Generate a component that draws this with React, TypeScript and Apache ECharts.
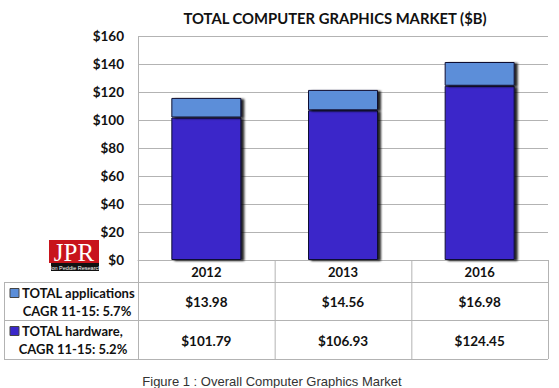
import React, { useEffect, useRef } from "react";
import * as echarts from "echarts";

const categories = ["2012", "2013", "2016"];
const applications = [13.98, 14.56, 16.98];
const hardware = [101.79, 106.93, 124.45];
const yTicks = [0, 20, 40, 60, 80, 100, 120, 140, 160];
const title = "TOTAL COMPUTER GRAPHICS MARKET ($B)";
const appsLegend = ["TOTAL applications", "CAGR 11-15: 5.7%"];
const hwLegend = ["TOTAL hardware,", "CAGR 11-15: 5.2%"];
const caption = "Figure 1 : Overall Computer Graphics Market";

const HW_COLOR = "#3a27c9";
const APP_COLOR = "#5b8ed9";
const FONT = "Lato";
const LINE = "#b3b3b3";

export default function App() {
  const ref = useRef<HTMLDivElement>(null);
  useEffect(() => {
    if (!ref.current) return;
    const chart = echarts.init(ref.current, undefined, { renderer: "svg" });

    const left = 138;
    const right = 548;
    const colW = (right - left) / categories.length;
    const tableX0 = 4;
    const rowY = [260, 282, 320, 359];

    const graphics: any[] = [];
    const hLine = (x1: number, x2: number, y: number) =>
      graphics.push({ type: "line", shape: { x1, y1: y + 0.5, x2, y2: y + 0.5 }, style: { stroke: LINE, lineWidth: 1 }, silent: true });
    const vLine = (x: number, y1: number, y2: number) =>
      graphics.push({ type: "line", shape: { x1: x + 0.5, y1, x2: x + 0.5, y2 }, style: { stroke: LINE, lineWidth: 1 }, silent: true });

    hLine(tableX0, right, rowY[1]);
    hLine(tableX0, right, rowY[2]);
    hLine(tableX0, right, rowY[3]);
    vLine(tableX0, rowY[1], rowY[3]);
    vLine(left, 36, rowY[3]);
    for (let i = 1; i <= categories.length; i++) vLine(left + colW * i, rowY[0], rowY[3]);

    // values
    const rows = [applications, hardware];
    rows.forEach((arr, r) => {
      arr.forEach((v, i) => {
        graphics.push({
          type: "text",
          x: left + colW * (i + 0.5),
          y: (rowY[r + 1] + rowY[r + 2]) / 2 + 1,
          style: { text: "$" + v.toFixed(2), fontFamily: FONT, fontWeight: "bold", fontSize: 13.5, fill: "#111", align: "center", verticalAlign: "middle" },
        });
      });
    });

    // legend cells
    const legendCell = (lines: string[], color: string, yTop: number, cx2: number) => {
      graphics.push({ type: "rect", shape: { x: 10, y: yTop + 6.5, width: 9, height: 9 }, style: { fill: color, stroke: "#444", lineWidth: 1 } });
      graphics.push({ type: "text", x: 22, y: yTop + 11, style: { text: lines[0], fontFamily: FONT, fontWeight: "bold", fontSize: 13, fill: "#111", align: "left", verticalAlign: "middle" } });
      graphics.push({ type: "text", x: cx2, y: yTop + 29, style: { text: lines[1], fontFamily: FONT, fontWeight: "bold", fontSize: 13, fill: "#111", align: "center", verticalAlign: "middle" } });
    };
    legendCell(appsLegend, APP_COLOR, rowY[1], 77);
    legendCell(hwLegend, HW_COLOR, rowY[2], 73);

    // logo
    graphics.push({ type: "rect", shape: { x: 49, y: 240, width: 50, height: 23 }, style: { fill: "#c8141c" } });
    graphics.push({ type: "text", x: 74, y: 252.5, style: { text: "JPR", fontFamily: "Liberation Serif", fontSize: 25, fill: "#fff", align: "center", verticalAlign: "middle" } });
    graphics.push({ type: "rect", shape: { x: 51, y: 263, width: 48, height: 8 }, style: { fill: "#111" } });
    graphics.push({ type: "text", x: 75, y: 267.5, style: { text: "Jon Peddie Research", fontFamily: "Liberation Sans Narrow, Liberation Sans", fontSize: 5.5, fill: "#fff", align: "center", verticalAlign: "middle" } });

    // caption
    graphics.push({ type: "text", x: 272, y: 381, style: { text: caption, fontFamily: "Liberation Sans", fontSize: 13, fill: "#333", align: "center", verticalAlign: "middle" } });

    const shadow = { shadowColor: "rgba(0,0,0,0.85)", shadowBlur: 2, shadowOffsetX: 3, shadowOffsetY: 1 };

    chart.setOption({
      animation: false,
      title: {
        text: title,
        left: 330,
        textAlign: "center",
        top: 5,
        textStyle: { fontFamily: FONT, fontWeight: "bold", fontSize: 14.8, color: "#111" },
      },
      grid: { left: left, top: 36, width: right - left, height: 224, containLabel: false },
      xAxis: {
        type: "category",
        data: categories,
        axisLine: { show: true, lineStyle: { color: LINE, width: 1 } },
        axisTick: { show: false },
        axisLabel: { fontFamily: FONT, fontWeight: "bold", fontSize: 13, color: "#111", margin: 5 },
      },
      yAxis: {
        type: "value",
        min: yTicks[0],
        max: yTicks[yTicks.length - 1],
        interval: yTicks[1] - yTicks[0],
        axisLine: { show: false },
        axisTick: { show: false },
        splitLine: { lineStyle: { color: LINE, width: 1 } },
        axisLabel: { fontFamily: FONT, fontWeight: "bold", fontSize: 13.5, color: "#111", margin: 14, formatter: (v: number) => "$" + v },
      },
      series: [
        {
          name: "TOTAL hardware",
          type: "bar",
          stack: "total",
          data: hardware,
          barWidth: 70,
          itemStyle: { color: HW_COLOR, borderColor: "#111133", borderWidth: 1, ...shadow },
        },
        {
          name: "TOTAL applications",
          type: "bar",
          stack: "total",
          data: applications,
          barWidth: 70,
          itemStyle: { color: APP_COLOR, borderColor: "#111133", borderWidth: 1, ...shadow },
        },
      ],
      graphic: graphics,
    });
    return () => chart.dispose();
  }, []);
  return <div ref={ref} style={{ position: "fixed", left: 0, top: 0, width: 559, height: 388, background: "#fff" }} />;
}
